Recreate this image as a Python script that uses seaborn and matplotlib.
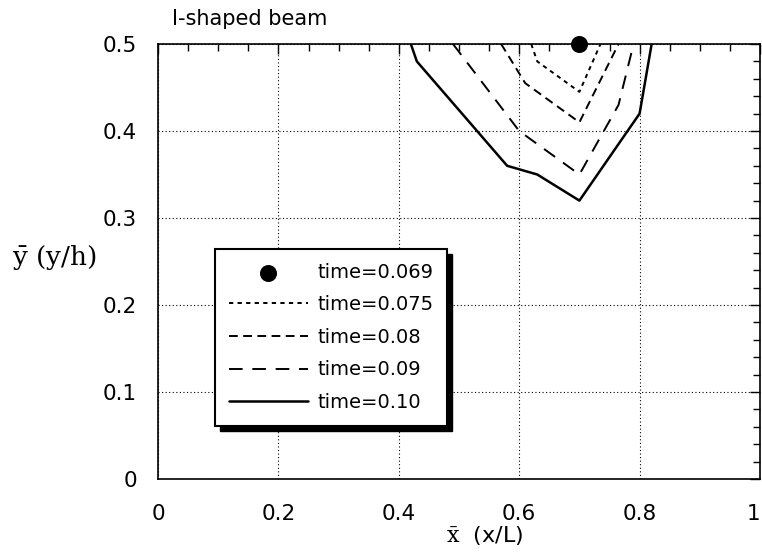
import numpy as np
import pandas as pd
import matplotlib
matplotlib.use("Agg")
import matplotlib.pyplot as plt
from matplotlib.patches import Rectangle
from matplotlib.ticker import MultipleLocator
import seaborn as sns

# Crack front positions (normalised) at successive times
t069_x = [0.70]
t069_y = [0.50]

t075_x = [0.62, 0.63, 0.70, 0.735]
t075_y = [0.50, 0.48, 0.445, 0.50]

t08_x = [0.57, 0.61, 0.70, 0.765]
t08_y = [0.50, 0.455, 0.41, 0.50]

t09_x = [0.49, 0.60, 0.70, 0.765, 0.79]
t09_y = [0.50, 0.40, 0.35, 0.43, 0.50]

t10_x = [0.42, 0.43, 0.58, 0.63, 0.70, 0.78, 0.80, 0.82]
t10_y = [0.50, 0.48, 0.36, 0.35, 0.32, 0.40, 0.42, 0.50]

labels = ["time=0.069", "time=0.075", "time=0.08", "time=0.09", "time=0.10"]
x_ticks = [0, 0.2, 0.4, 0.6, 0.8, 1]
x_ticklabels = ["0", "0.2", "0.4", "0.6", "0.8", "1"]
y_ticks = [0, 0.1, 0.2, 0.3, 0.4, 0.5]
y_ticklabels = ["0", "0.1", "0.2", "0.3", "0.4", "0.5"]

sns.set_style("white")
plt.rcParams["font.family"] = ["DejaVu Sans"]
plt.rcParams["mathtext.fontset"] = "dejavuserif"
for key in ["text.color", "axes.labelcolor", "xtick.color", "ytick.color",
            "xtick.labelcolor", "ytick.labelcolor"]:
    plt.rcParams[key] = "black"

fig = plt.figure(figsize=(7.62, 5.54), dpi=100)
ax = fig.add_axes([158 / 762, 75 / 554, 602 / 762, 435 / 554])

line_specs = [
    (t075_x, t075_y, labels[1], (0, (2.2, 2.2)), 1.4),
    (t08_x, t08_y, labels[2], (0, (4.5, 2.8)), 1.4),
    (t09_x, t09_y, labels[3], (0, (7, 5)), 1.4),
    (t10_x, t10_y, labels[4], "-", 1.8),
]

sns.scatterplot(x=t069_x, y=t069_y, ax=ax, color="black", s=150,
                edgecolor="black", linewidth=0, label=labels[0],
                zorder=4, clip_on=False, legend=False)
for xs, ys, lab, ls, lw in line_specs:
    df = pd.DataFrame({"x": xs, "y": ys})
    sns.lineplot(data=df, x="x", y="y", ax=ax, sort=False, estimator=None,
                 color="black", linestyle=ls, linewidth=lw, label=lab,
                 legend=False, zorder=3)

ax.set_xlim(0, 1)
ax.set_ylim(0, 0.5)
ax.set_xticks(x_ticks)
ax.set_xticklabels(x_ticklabels)
ax.set_yticks(y_ticks)
ax.set_yticklabels(y_ticklabels)
ax.get_xticklabels()[-1].set_horizontalalignment("right")
ax.xaxis.set_minor_locator(MultipleLocator(0.05))
ax.yaxis.set_minor_locator(MultipleLocator(0.02))
ax.tick_params(which="both", direction="in", top=True, right=True,
               color="black", width=1.0)
ax.tick_params(which="major", length=7)
ax.tick_params(which="minor", length=5)
ax.tick_params(axis="x", which="major", labelsize=15.5, pad=18)
ax.tick_params(axis="y", which="major", labelsize=15.5, pad=15)

ax.grid(True, which="major", color="black", linestyle=(0, (1, 2.2)),
        linewidth=0.8)
for sp in ax.spines.values():
    sp.set_color("black")
    sp.set_linewidth(1.2)

ax.set_xlabel(r"$\bar{\mathrm{x}}$  (x/L)", fontsize=16)
ax.xaxis.set_label_coords(0.543, -0.104)
ax.set_ylabel(r"$\bar{\mathrm{y}}$ (y/h)", fontsize=19, rotation=0,
              family="DejaVu Serif", ha="center", va="center")
ax.yaxis.set_label_coords(-0.172, 0.51)

fig.text(172 / 762, 1 - 25 / 554, "I-shaped beam", fontsize=15,
         ha="left", va="baseline")

handles, labs = ax.get_legend_handles_labels()
leg = ax.legend(handles, labs, loc="upper left",
                bbox_to_anchor=(0.0947, 0.5287), fontsize=14,
                frameon=True, fancybox=False, shadow=False,
                handlelength=4.1, handletextpad=0.45, labelspacing=0.7,
                borderpad=0.7, borderaxespad=0, markerscale=1.0)
leg.get_frame().set_edgecolor("black")
leg.get_frame().set_linewidth(1.5)
leg.get_frame().set_facecolor("white")
leg.get_frame().set_alpha(1)
leg.set_zorder(6)

# solid drop shadow behind the legend box
fig.canvas.draw()
bb = leg.get_window_extent().transformed(ax.transAxes.inverted())
dx = 5 / 602
dy = 5 / 435
shadow = Rectangle((bb.x0 + dx, bb.y0 - dy), bb.width, bb.height,
                   transform=ax.transAxes, facecolor="black",
                   edgecolor="black", zorder=5.5, clip_on=False)
ax.add_patch(shadow)

fig.savefig("out.png", dpi=100)
